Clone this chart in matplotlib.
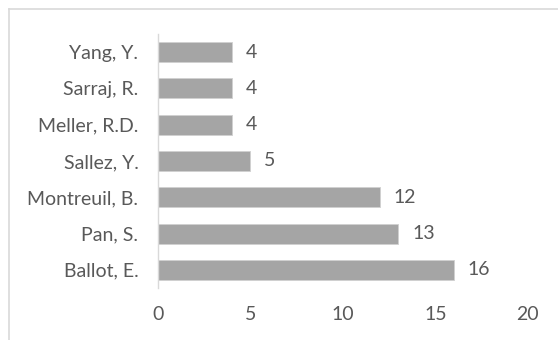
import matplotlib
matplotlib.use("Agg")
import matplotlib.pyplot as plt
from matplotlib.lines import Line2D

authors = ["Ballot, E.", "Pan, S.", "Montreuil, B.", "Sallez, Y.",
           "Meller, R.D.", "Sarraj, R.", "Yang, Y."]
counts = [16, 13, 12, 5, 4, 4, 4]
xticks = [0, 5, 10, 15, 20]

plt.rcParams["font.family"] = ["Lato", "DejaVu Sans"]
text_color = "#595959"
bar_color = "#a5a5a5"
line_color = "#d9d9d9"

fig = plt.figure(figsize=(5.58, 3.40), dpi=100)
ax = fig.add_axes([0.283, 0.153, 0.663, 0.747])

ypos = range(len(authors))
ax.barh(ypos, counts, height=0.55, color=bar_color,
        edgecolor="#d0d0d0", linewidth=0.6)

for y, v in zip(ypos, counts):
    ax.annotate(str(v), xy=(v, y), xytext=(10, 0), textcoords="offset points",
                va="center", ha="left", fontsize=14, color=text_color)

ax.set_xlim(0, 20)
ax.set_ylim(-0.5, len(authors) - 0.5)
ax.set_xticks(xticks)
ax.set_xticklabels([str(t) for t in xticks])
ax.set_yticks(list(ypos))
ax.set_yticklabels(authors)
ax.tick_params(axis="both", length=0, labelsize=14, colors=text_color)
ax.tick_params(axis="x", pad=13)
ax.tick_params(axis="y", pad=14)

for side in ["top", "right", "bottom"]:
    ax.spines[side].set_visible(False)
ax.spines["left"].set_color(line_color)
ax.spines["left"].set_linewidth(1.0)

# chart-area frame (top and left edges)
fig.add_artist(Line2D([9 / 558, 1.0], [1 - 9 / 340, 1 - 9 / 340],
                      transform=fig.transFigure, color=line_color, lw=1.2))
fig.add_artist(Line2D([9 / 558, 9 / 558], [0.0, 1 - 9 / 340],
                      transform=fig.transFigure, color=line_color, lw=1.2))

fig.savefig("out.png", dpi=100, facecolor="white")
